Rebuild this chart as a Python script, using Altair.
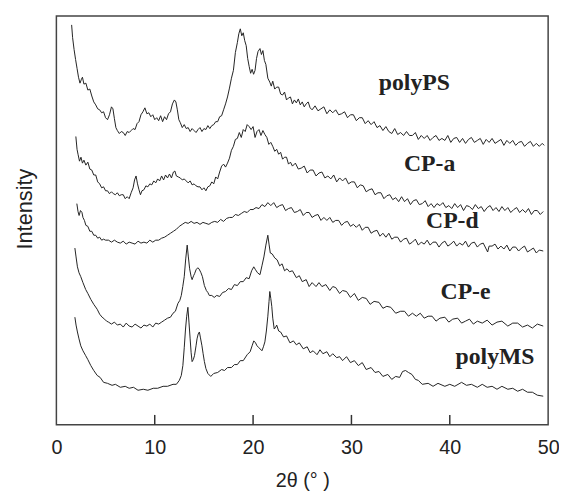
import altair as alt
import pandas as pd

# ---------------- data ----------------
TICKS = [0, 10, 20, 30, 40, 50]
INNER_TICKS = [10, 20, 30, 40]

SERIES = ["polyPS", "CP-a", "CP-d", "CP-e", "polyMS"]

# (2theta, intensity) pairs for each pattern
POLY_PS = [(1.55,405),(1.65,392),(1.8,380),(1.95,370),(2.1,361),(2.25,352),(2.4,346),(2.55,350),(2.65,352),(2.8,345),
           (3.0,346),(3.2,339),(3.4,340),(3.6,333),(3.8,327),(4.0,324),(4.2,320),(4.4,319),(4.6,316),(4.8,317),
           (5.0,311),(5.2,309),(5.4,314),(5.6,322),(5.75,320),(5.9,310),(6.05,301),(6.2,298),(6.4,295),(6.6,297),
           (6.8,296),(7.0,293),(7.2,297),(7.4,296),(7.6,298),(7.8,300),(8.0,299),(8.2,305),(8.4,307),(8.6,314),
           (8.8,317),(9.0,321),(9.2,315),(9.4,316),(9.6,312),(9.8,314),(10.0,309),(10.2,311),(10.4,308),(10.6,313),
           (10.8,307),(11.0,312),(11.2,309),(11.4,315),(11.6,317),(11.8,325),(12.0,329),(12.15,327),(12.3,319),
           (12.45,309),(12.6,306),(12.8,301),(13.0,304),(13.2,300),(13.4,301),(13.6,297),(13.8,300),(14.0,298),
           (14.2,296),(14.4,299),(14.6,301),(14.8,297),(15.0,300),(15.2,299),(15.4,303),(15.6,300),(15.8,303),
           (16.0,304),(16.2,307),(16.4,307),(16.6,312),(16.8,313),(17.0,319),(17.2,325),(17.4,332),(17.6,341),
           (17.8,351),(18.0,359),(18.2,377),(18.4,387),(18.55,396),(18.7,401),(18.85,394),(19.0,397),(19.15,389),
           (19.3,384),(19.45,371),(19.6,363),(19.75,356),(19.9,360),(20.05,355),(20.2,359),(20.35,371),(20.5,378),
           (20.7,381),(20.85,375),(21.0,379),(21.15,369),(21.3,365),(21.5,351),(21.7,347),(21.85,343),
           (22.0,348),(22.2,340),(22.4,342),(22.6,342),(22.8,335),(23.0,334),(23.2,337),(23.4,329),(23.6,331),
           (23.8,332),(24.0,325),(24.2,329),(24.4,326),(24.6,330),(24.8,324),(25.0,327),(25.2,322),(25.4,325),
           (25.6,327),(25.8,321),(26.0,319),(26.3,323),(26.6,318),(26.9,320),(27.2,322),(27.5,315),(27.8,319),
           (28.1,316),(28.4,319),(28.7,314),(29.0,315),(29.3,317),(29.6,311),(29.9,314),(30.2,314),(30.5,308),
           (30.8,311),(31.1,311),(31.4,305),(31.7,308),(32.0,304),(32.3,307),(32.6,301),(32.9,303),(33.2,298),
           (33.5,302),(33.8,297),(34.1,295),(34.4,300),(34.7,294),(35.0,296),(35.3,293),(35.6,297),(35.9,293),
           (36.2,293),(36.5,296),(36.8,289),(37.1,293),(37.4,290),(37.7,293),(38.0,288),(38.3,291),(38.6,293),
           (38.9,288),(39.2,290),(39.5,288),(39.8,293),(40.1,286),(40.4,290),(40.7,291),(41.0,286),(41.3,290),
           (41.6,285),(41.9,289),(42.2,291),(42.5,286),(42.8,288),(43.1,290),(43.4,284),(43.7,289),(44.0,286),
           (44.3,290),(44.6,285),(44.9,287),(45.2,289),(45.5,283),(45.8,288),(46.1,285),(46.4,288),(46.7,283),
           (47.0,286),(47.3,287),(47.6,282),(47.9,285),(48.2,287),(48.5,282),(48.8,285),(49.1,282),(49.4,285),
           (49.6,283)]

CP_A = [(1.98,292),(2.1,279),(2.2,274),(2.35,267),(2.5,271),(2.65,265),(2.8,268),(3.0,263),(3.2,266),(3.4,259),
        (3.6,258),(3.8,253),(4.0,253),(4.2,246),(4.4,244),(4.6,240),(4.8,241),(5.0,237),(5.2,237),(5.4,234),
        (5.6,236),(5.8,234),(6.0,233),(6.2,235),(6.4,232),(6.6,233),(6.8,233),(7.0,229),(7.2,231),(7.4,229),
        (7.6,235),(7.8,240),(7.95,248),(8.1,252),(8.25,244),(8.4,238),(8.55,233),(8.7,237),(8.9,238),(9.1,242),
        (9.3,241),(9.5,244),(9.7,243),(9.9,247),(10.1,245),(10.3,249),(10.5,247),(10.7,252),(10.9,248),(11.1,253),
        (11.3,250),(11.5,254),(11.7,250),(11.9,256),(12.05,257),(12.2,252),(12.4,251),(12.6,250),(12.8,248),
        (13.0,249),(13.2,247),(13.4,245),(13.6,247),(13.8,243),(14.0,244),(14.2,242),(14.4,241),(14.6,241),
        (14.8,238),(15.0,240),(15.2,237),(15.4,241),(15.6,242),(15.8,246),(16.0,244),(16.2,251),(16.4,249),
        (16.6,256),(16.8,262),(17.0,264),(17.2,261),(17.4,265),(17.6,270),(17.8,278),(18.0,282),(18.2,289),
        (18.4,290),(18.6,296),(18.8,291),(19.0,299),(19.2,297),(19.4,304),(19.6,302),(19.8,299),(20.0,302),
        (20.2,291),(20.4,297),(20.6,299),(20.8,293),(21.0,298),(21.2,294),(21.4,291),(21.6,284),(21.8,286),
        (22.0,282),(22.2,277),(22.4,279),(22.6,274),(22.8,276),(23.0,269),(23.2,271),(23.4,271),(23.6,264),
        (23.8,266),(24.0,262),(24.3,265),(24.6,259),(24.9,260),(25.2,262),(25.5,255),(25.8,258),(26.1,258),
        (26.4,252),(26.7,255),(27.0,256),(27.3,250),(27.6,252),(27.9,249),(28.2,253),(28.5,246),(28.8,250),
        (29.1,247),(29.4,250),(29.7,244),(30.0,246),(30.3,246),(30.6,240),(30.9,243),(31.2,242),(31.5,236),
        (31.8,238),(32.1,239),(32.4,233),(32.7,235),(33.0,235),(33.3,229),(33.6,232),(33.9,233),(34.2,228),
        (34.5,230),(34.8,226),(35.1,231),(35.4,226),(35.7,229),(36.0,223),(36.3,227),(36.6,228),(36.9,223),
        (37.2,224),(37.5,227),(37.8,221),(38.1,224),(38.4,220),(38.7,224),(39.0,222),(39.3,225),(39.6,220),
        (39.9,222),(40.2,219),(40.5,224),(40.8,220),(41.1,223),(41.4,217),(41.7,222),(42.0,221),(42.3,218),
        (42.6,223),(42.9,219),(43.2,221),(43.5,216),(43.8,220),(44.1,222),(44.4,217),(44.7,220),(45.0,216),
        (45.3,221),(45.6,217),(45.9,220),(46.2,215),(46.5,218),(46.8,220),(47.1,215),(47.4,218),(47.7,215),
        (48.0,219),(48.3,213),(48.6,217),(48.9,217),(49.2,213),(49.5,216)]

CP_D = [(2.08,224),(2.2,216),(2.31,212),(2.45,217),(2.6,215),(2.7,210),(2.85,207),(3.0,202),(3.2,201),(3.4,196),
        (3.6,196),(3.8,192),(4.0,192),(4.2,189),(4.4,190),(4.6,187),(4.8,188),(5.0,187),(5.3,187),(5.6,185),
        (5.9,187),(6.2,185),(6.5,184),(6.8,186),(7.1,183),(7.4,185),(7.7,184),(8.0,183),(8.3,186),(8.6,184),
        (8.9,185),(9.2,184),(9.5,187),(9.8,185),(10.1,187),(10.4,187),(10.7,189),(11.0,190),(11.3,192),(11.6,194),
        (11.9,196),(12.2,198),(12.5,201),(12.8,203),(13.1,205),(13.4,204),(13.7,206),(14.0,204),(14.3,205),
        (14.6,203),(14.9,205),(15.2,204),(15.5,203),(15.8,205),(16.1,206),(16.4,205),(16.7,208),(17.0,206),
        (17.3,209),(17.6,210),(17.9,210),(18.2,213),(18.5,212),(18.8,214),(19.1,216),(19.4,215),(19.7,218),
        (20.0,218),(20.3,220),(20.6,219),(20.9,223),(21.2,221),(21.5,225),(21.8,222),
        (22.1,225),(22.4,220),(22.7,222),(23.0,223),(23.3,217),(23.6,219),(23.9,220),(24.2,215),(24.5,216),
        (24.8,218),(25.1,212),(25.4,215),(25.7,215),(26.0,210),(26.3,212),(26.6,213),(26.9,207),(27.2,210),
        (27.5,207),(27.8,210),(28.1,205),(28.4,207),(28.7,207),(29.0,202),(29.3,205),(29.6,206),(29.9,201),
        (30.2,203),(30.5,200),(30.8,203),(31.1,197),(31.4,200),(31.7,200),(32.0,194),(32.3,196),(32.6,197),
        (32.9,191),(33.2,194),(33.5,190),(33.8,194),(34.1,188),(34.4,190),(34.7,190),(35.0,185),(35.3,188),
        (35.6,189),(35.9,183),(36.2,185),(36.5,188),(36.8,182),(37.1,185),(37.4,183),(37.7,187),(38.0,182),
        (38.3,185),(38.6,185),(38.9,180),(39.2,184),(39.5,186),(39.8,181),(40.1,183),(40.4,186),(40.7,181),
        (41.0,184),(41.3,182),(41.6,186),(41.9,180),(42.2,184),(42.5,185),(42.8,180),(43.1,183),(43.4,184),
        (43.7,178),(43.85,175),(44.0,181),(44.3,181),(44.6,183),(44.9,178),(45.2,181),(45.5,178),(45.8,182),
        (46.1,176),(46.4,180),(46.7,180),(47.0,176),(47.3,179),(47.6,181),(47.9,175),(48.2,177),(48.5,179),
        (48.8,174),(49.1,177),(49.5,176)]

CP_E = [(1.88,179),(2.0,170),(2.14,160),(2.3,154),(2.48,150),(2.7,144),(2.98,137),(3.2,133),(3.5,127),(3.8,122),
        (4.15,117),(4.4,112),(4.65,109),(4.9,107),(5.1,105),(5.3,104),(5.6,102),(5.9,104),(6.2,101),(6.5,102),
        (6.8,99),(7.1,103),(7.4,100),(7.7,99),(8.0,102),(8.3,100),(8.6,98),(8.9,101),(9.2,100),(9.5,102),(9.8,99),
        (10.1,103),(10.4,102),(10.7,104),(11.0,106),(11.3,108),(11.6,109),(11.86,113),(12.1,115),(12.36,123),
        (12.55,126),(12.7,131),(12.85,140),(13.0,150),(13.15,168),(13.3,182),(13.42,170),(13.55,158),(13.7,150),
        (13.8,147),(13.95,151),(14.05,153),(14.2,157),(14.37,159),(14.5,158),(14.7,154),(14.85,150),(15.05,141),
        (15.25,136),(15.4,134),(15.55,131),(15.8,131),(16.05,129),(16.3,131),(16.6,130),(16.9,134),(17.2,135),
        (17.5,138),(17.8,137),(18.1,142),(18.4,141),(18.7,145),(19.0,145),(19.3,149),(19.6,148),(19.85,156),
        (20.07,160),(20.25,157),(20.45,154),(20.7,152),(20.9,161),(21.1,170),(21.3,182),(21.5,192),(21.62,183),
        (21.75,174),(21.95,173),(22.2,169),(22.45,167),(22.7,161),(22.95,163),(23.2,156),(23.45,158),(23.7,155),
        (24.0,156),(24.4,149),(24.7,151),(25.0,145),(25.4,147),(25.7,140),(26.0,144),(26.4,140),(26.7,144),
        (27.0,140),(27.4,142),(27.8,136),(28.1,140),(28.4,139),(28.8,133),(29.1,136),(29.5,135),(29.9,129),
        (30.3,133),(30.7,126),(31.1,129),(31.5,128),(31.9,122),(32.3,125),(32.8,124),(33.2,118),(33.6,120),
        (34.0,119),(34.5,113),(35.0,115),(35.4,115),(35.8,110),(36.2,113),(36.6,110),(37.0,113),(37.4,108),
        (37.8,110),(38.2,110),(38.6,105),(39.0,108),(39.5,109),(39.9,104),(40.3,107),(40.8,108),(41.2,103),
        (41.6,105),(42.0,107),(42.4,102),(42.8,105),(43.3,103),(43.8,106),(44.3,101),(44.8,104),(45.3,105),
        (45.9,100),(46.4,103),(46.9,103),(47.4,99),(47.9,101),(48.4,98),(48.9,102),(49.5,100)]

POLY_MS = [(1.88,109),(2.0,101),(2.14,94),(2.3,87),(2.48,80),(2.7,75),(2.98,70),(3.2,66),(3.5,60),(3.8,55),
           (4.15,50),(4.45,48),(4.8,43),(5.2,42),(5.66,40),(6.0,41),(6.5,38),(7.0,39),(7.4,37),(7.84,38),(8.3,35),
           (8.84,36),(9.3,35),(9.85,37),(10.3,37),(10.85,39),(11.3,39),(11.86,41),(12.2,41),(12.5,45),(12.7,50),
           (12.86,60),(13.0,78),(13.13,97),(13.25,110),(13.37,119),(13.48,104),(13.6,87),(13.7,73),(13.8,64),
           (13.92,66),(14.04,70),(14.2,80),(14.3,87),(14.42,92),(14.54,94),(14.65,88),(14.8,80),(14.92,72),
           (15.05,64),(15.2,57),(15.4,52),(15.7,49),(16.0,52),(16.4,53),(16.8,56),(17.1,55),(17.4,58),(17.8,58),
           (18.1,61),(18.4,61),(18.7,65),(19.0,65),(19.4,71),(19.7,74),(19.9,80),(20.07,85),(20.25,83),(20.4,80),
           (20.6,78),(20.9,75),(21.05,79),(21.2,84),(21.35,95),(21.5,110),(21.62,125),(21.7,135),(21.8,128),
           (21.9,120),(22.0,108),(22.15,97),(22.3,99),(22.4,101),(22.6,95),(22.8,94),(23.1,89),(23.4,90),
           (23.75,83),(24.1,85),(24.4,81),(24.7,83),(25.1,77),(25.5,79),(25.8,73),(26.1,75),(26.5,71),(26.8,76),
           (27.1,72),(27.5,74),(27.8,69),(28.1,72),(28.5,68),(28.8,69),(29.1,65),(29.5,69),(29.9,63),(30.3,65),
           (30.7,60),(31.1,63),(31.5,56),(32.0,58),(32.4,53),(32.8,54),(33.2,49),(33.7,51),(34.1,46),(34.5,49),
           (34.9,48),(35.2,54),(35.5,55),(35.8,53),(36.15,51),(36.5,46),(36.8,45),(37.2,41),(37.8,42),(38.3,39),
           (38.8,42),(39.5,39),(40.0,41),(40.5,39),(41.2,43),(41.7,40),(42.2,41),(42.8,38),(43.3,41),(43.8,38),
           (44.3,39),(44.8,36),(45.3,39),(45.9,36),(46.4,37),(46.9,34),(47.4,36),(47.9,33),(48.4,33),(48.9,30),
           (49.5,29)]

ALL = [POLY_PS, CP_A, CP_D, CP_E, POLY_MS]

# label anchors (2theta, intensity)
LABEL_T = [36.4, 37.95, 40.26, 41.6, 44.6]
LABEL_I = [339, 257, 199, 127, 62]

# ---------------- tables ----------------
rows = []
for name, pts in zip(SERIES, ALL):
    for k, (t, v) in enumerate(pts):
        rows.append({"series": name, "k": k, "theta": t, "I": v})
df = pd.DataFrame(rows)
labels = pd.DataFrame({"series": SERIES, "theta": LABEL_T, "I": LABEL_I})
ticks = pd.DataFrame({"theta": INNER_TICKS})

W, H = 498, 414
INK = "#222222"

xscale = alt.Scale(domain=[0, 50], nice=False, zero=False)
yscale = alt.Scale(domain=[0, 414], nice=False, zero=False)

x_axis = alt.Axis(
    values=TICKS, title="2θ  (°  )", ticks=False, domain=False, grid=False,
    labelFontSize=20, labelFont="Liberation Sans", labelColor=INK, labelPadding=13,
    labelFlush=False, labelOverlap=False,
    titleFontSize=20, titleFont="Liberation Sans", titleFontWeight="normal", titleColor=INK,
    titleY=56, titleBaseline="middle",
)
y_axis = alt.Axis(
    title="Intensity", labels=False, ticks=False, domain=False, grid=False,
    titleFontSize=22, titleFont="Liberation Sans", titleFontWeight="normal", titleColor=INK,
    titleX=-32, titleY=195, titleAngle=270, titleBaseline="middle", titleAlign="center",
)

lines = alt.Chart(df).mark_line(color=INK, strokeWidth=1, interpolate="linear").encode(
    x=alt.X("theta:Q", scale=xscale, axis=x_axis),
    y=alt.Y("I:Q", scale=yscale, axis=y_axis),
    detail="series:N",
    order="k:Q",
)

tick_marks = alt.Chart(ticks).mark_rule(color="#333333", strokeWidth=1.5).encode(
    x=alt.X("theta:Q", scale=xscale),
    y=alt.value(H),
    y2=alt.value(H - 10),
)

text = alt.Chart(labels).mark_text(
    font="Liberation Serif", fontWeight="bold", fontSize=24,
    align="center", baseline="alphabetic", color=INK,
).encode(
    x=alt.X("theta:Q", scale=xscale),
    y=alt.Y("I:Q", scale=yscale),
    text="series:N",
)

chart = alt.layer(lines, tick_marks, text).properties(
    width=W, height=H,
    autosize=alt.AutoSizeParams(type="none"),
    padding={"left": 49, "top": 5, "right": 11, "bottom": 70},
).configure_view(stroke="#444444", strokeWidth=1.5)

chart.save("out.html", embed_options={"renderer": "svg", "actions": False})
